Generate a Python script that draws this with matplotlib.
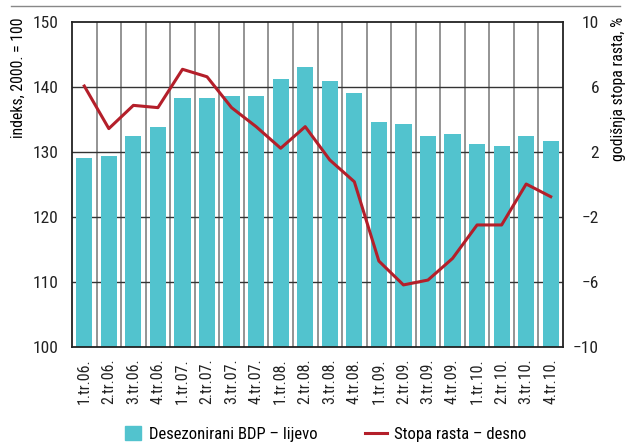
import matplotlib
matplotlib.use("Agg")
import matplotlib.pyplot as plt
from matplotlib.patches import Patch
from matplotlib.lines import Line2D
from matplotlib import font_manager as fm
import numpy as np

names = {f.name for f in fm.fontManager.ttflist}
fam = 'DejaVu Sans'
for cand in ['Roboto Condensed', 'Archivo Narrow', 'Asap Condensed', 'Barlow Semi Condensed']:
    if cand in names:
        fam = cand
        break
plt.rcParams['font.family'] = [fam, 'DejaVu Sans']

categories = ['1.tr.06.', '2.tr.06.', '3.tr.06.', '4.tr.06.',
              '1.tr.07.', '2.tr.07.', '3.tr.07.', '4.tr.07.',
              '1.tr.08.', '2.tr.08.', '3.tr.08.', '4.tr.08.',
              '1.tr.09.', '2.tr.09.', '3.tr.09.', '4.tr.09.',
              '1.tr.10.', '2.tr.10.', '3.tr.10.', '4.tr.10.']
bdp = [129.1, 129.4, 132.5, 133.8, 138.3, 138.3, 138.6, 138.6,
       141.2, 143.1, 140.9, 139.1, 134.6, 134.3, 132.5, 132.8,
       131.2, 130.9, 132.5, 131.7]
stopa = [6.06, 3.44, 4.87, 4.73, 7.09, 6.63, 4.73, 3.56,
         2.23, 3.56, 1.51, 0.17, -4.71, -6.18, -5.88, -4.55,
         -2.49, -2.49, 0.03, -0.75]
left_ticks = [100, 110, 120, 130, 140, 150]
right_ticks = [-10, -6, -2, 2, 6, 10]

bar_color = '#52C3CE'
line_color = '#B41F2A'

fig = plt.figure(figsize=(6.27, 4.43), dpi=100)
ax = fig.add_axes([72/627, 1-347/443, (563-72)/627, (347-22)/443])
x = np.arange(len(categories))
ax.bar(x, [v - 100 for v in bdp], bottom=100, width=0.66, color=bar_color, zorder=2)
ax.set_xlim(-0.5, len(categories) - 0.5)
ax.set_ylim(100, 150)
ax.set_yticks(left_ticks)
ax.set_xticks(x)
ax.set_xticklabels(categories, rotation=90, fontsize=11.5)
ax.tick_params(axis='both', length=0, labelsize=12.5, colors='#222222')
ax.tick_params(axis='x', labelsize=11.5, pad=8)
ax.tick_params(axis='y', pad=10)
for b in np.arange(0.5, len(categories) - 0.5, 1):
    ax.axvline(b, color='#777777', lw=1.1, zorder=1)
for t in left_ticks[1:-1]:
    ax.axhline(t, color='#333333', lw=1.0, zorder=1)
for s in ax.spines.values():
    s.set_color('#222222')
    s.set_linewidth(1.3)
    s.set_zorder(3)
ax.set_ylabel('indeks, 2000. = 100', fontsize=11.3, loc='top')
ax.yaxis.set_label_coords(-46/491, 1 + 5/325)

ax2 = ax.twinx()
ax2.plot(x, stopa, color=line_color, lw=2.2, zorder=4)
ax2.set_ylim(-10, 10)
ax2.set_yticks(right_ticks)
ax2.set_yticklabels([f'{t}'.replace('-', '\u2212') for t in right_ticks], ha='right')
ax2.tick_params(axis='y', length=0, labelsize=12.5, colors='#222222', pad=26)
for s in ax2.spines.values():
    s.set_visible(False)
ax2.set_ylabel('godišnja stopa rasta, %', fontsize=11.3, loc='top')
ax2.yaxis.set_label_coords(1 + 48/491, 1 + 5/325)

fig.add_artist(Line2D([11/627, 620/627], [1-6/443, 1-6/443], color='#888888', lw=1.0))

leg1 = fig.legend(handles=[Patch(color=bar_color, label='Desezonirani BDP – lijevo')],
                  loc='center left', bbox_to_anchor=(110/627, 1-434/443), frameon=False,
                  fontsize=12, handlelength=0.95, handleheight=0.95, handletextpad=0.5)
leg2 = fig.legend(handles=[Line2D([], [], color=line_color, lw=2.2, label='Stopa rasta – desno')],
                  loc='center left', bbox_to_anchor=(350/627, 1-434/443), frameon=False,
                  fontsize=12, handlelength=1.3, handletextpad=0.45)

fig.savefig('out.png', dpi=100)
